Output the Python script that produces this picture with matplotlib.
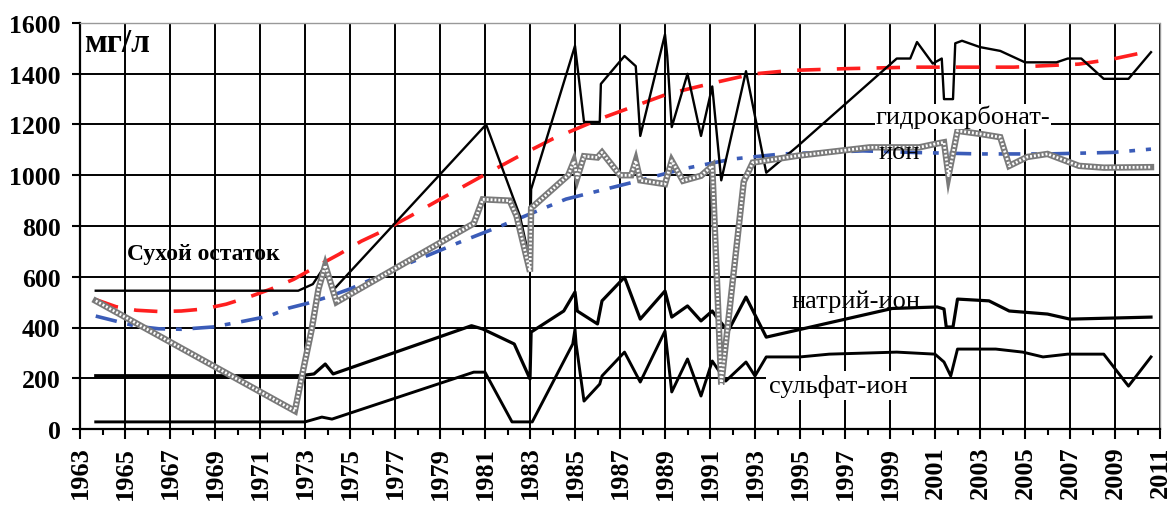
import matplotlib
matplotlib.use("Agg")
import matplotlib.pyplot as plt
from matplotlib.ticker import MultipleLocator

plt.rcParams['font.family'] = ['Liberation Serif', 'DejaVu Serif']

# ---- data ----
dry_x = [1963.7, 1972.7, 1973.35, 1973.9, 1974.3, 1981.05, 1982.55, 1983.0, 1983.05,
         1985.0, 1985.4, 1986.1, 1986.15, 1987.2, 1987.7, 1987.9, 1989.0, 1989.1, 1989.3,
         1990.0, 1990.6, 1991.1, 1991.5, 1992.6, 1993.5, 1994.9, 1999.3, 1999.9, 2000.2,
         2000.9, 2001.3, 2001.4, 2001.8, 2001.9, 2002.2, 2003.0, 2003.9, 2005.0, 2006.4,
         2006.9, 2007.5, 2008.5, 2009.6, 2010.6]
dry_y = [545, 545, 571, 645, 552, 1200, 840, 660, 945,
         1510, 1210, 1210, 1360, 1470, 1430, 1155, 1555, 1470, 1190,
         1400, 1155, 1350, 980, 1410, 1010, 1115, 1460, 1460, 1525,
         1440, 1460, 1300, 1300, 1520, 1530, 1505, 1490, 1445, 1445,
         1460, 1460, 1380, 1380, 1485]

hc_x = [1963.7, 1972.55, 1972.9, 1973.3, 1973.6, 1973.9, 1974.4, 1980.5, 1980.9, 1982.1,
        1982.4, 1983.0, 1983.05, 1984.7, 1984.95, 1985.1, 1985.4, 1986.0, 1986.2, 1987.0,
        1987.5, 1987.7, 1987.9, 1989.0, 1989.3, 1989.8, 1990.6, 1991.1, 1991.5, 1992.5,
        1992.9, 1994.9, 1998.1, 2000.3, 2001.1, 2001.4, 2001.6, 2002.0, 2003.0, 2003.9,
        2004.3, 2005.1, 2006.0, 2007.4, 2008.5, 2010.6]
hc_y = [505, 71, 224, 394, 552, 645, 500, 810, 905, 900,
        840, 620, 870, 1000, 1055, 990, 1075, 1070, 1090, 1000,
        1000, 1057, 980, 965, 1057, 978, 998, 1037, 175, 975,
        1050, 1077, 1110, 1110, 1125, 1130, 998, 1175, 1163, 1150,
        1037, 1072, 1084, 1037, 1030, 1032]

na_x = [1963.7, 1972.8, 1973.4, 1973.9, 1974.25, 1980.4, 1980.9, 1982.3, 1983.0, 1983.05,
        1984.5, 1985.0, 1985.1, 1986.0, 1986.2, 1987.2, 1987.9, 1989.0, 1989.3, 1990.0,
        1990.6, 1991.1, 1991.3, 1991.8, 1992.6, 1993.5, 1999.1, 2001.1, 2001.4, 2001.5,
        2001.8, 2002.0, 2003.4, 2004.3, 2006.0, 2007.0, 2010.6]
na_y = [210, 210, 217, 256, 217, 407, 394, 335, 197, 382,
        465, 540, 465, 414, 505, 598, 433, 544, 441, 485,
        426, 465, 440, 385, 520, 362, 475, 481, 473, 402,
        402, 512, 505, 465, 453, 433, 441]

su_x = [1963.7, 1973.0, 1973.75, 1974.2, 1980.5, 1981.0, 1982.2, 1983.1, 1984.9, 1985.0,
        1985.05, 1985.4, 1986.1, 1986.2, 1987.2, 1987.9, 1989.0, 1989.3, 1990.0, 1990.6,
        1991.1, 1991.7, 1992.6, 1993.0, 1993.5, 1995.0, 1996.3, 1999.3, 2001.0, 2001.4,
        2001.7, 2002.0, 2003.7, 2004.9, 2005.8, 2006.9, 2008.5, 2009.6, 2010.6]
su_y = [28, 28, 47, 39, 224, 224, 28, 28, 335, 394,
        335, 110, 177, 209, 303, 185, 386, 146, 276, 130,
        268, 189, 264, 209, 284, 284, 295, 303, 295, 264,
        209, 315, 315, 303, 284, 295, 295, 169, 284]

red_x = [1963.7, 1964.6, 1965.5, 1966.5, 1967.5, 1968.5, 1969.5, 1970.5, 1971.5, 1972.5,
         1973.5, 1974.5, 1975.5, 1976.5, 1977.7, 1979.0, 1980.9, 1982.5, 1984.0, 1986.1,
         1989.1, 1991.3, 1992.9, 1994.6, 1997.0, 2000.0, 2004.5, 2007.4, 2008.9, 2010.6]
red_y = [510, 482, 468, 463, 465, 473, 492, 520, 552, 590,
         640, 688, 740, 782, 840, 905, 998, 1075, 1143, 1222,
         1320, 1367, 1399, 1413, 1420, 1426, 1426, 1438, 1458, 1490]

blue_x = [1963.7, 1964.6, 1965.5, 1966.5, 1967.5, 1968.9, 1970.0, 1971.4, 1972.3, 1973.1,
          1974.0, 1975.0, 1977.2, 1979.9, 1981.7, 1984.6, 1987.6, 1989.8, 1992.0, 1994.2,
          1997.8, 2000.0, 2003.0, 2006.0, 2008.9, 2010.6]
blue_y = [445, 425, 405, 395, 393, 402, 420, 445, 477, 495,
          520, 552, 638, 737, 800, 906, 973, 1025, 1064, 1084,
          1096, 1090, 1084, 1084, 1090, 1103]

year_ticks = list(range(1963, 2012, 2))
y_ticks = list(range(0, 1601, 200))

# ---- figure ----
fig = plt.figure(figsize=(11.75, 5.06), dpi=100)
ax = fig.add_axes([80/1175, 1-430/506, 1080/1175, 406/506])
ax.set_xlim(1963, 2011)
ax.set_ylim(0, 1600)

ax.set_xticks(year_ticks)
ax.set_xticklabels([str(y) for y in year_ticks], rotation=90, fontsize=19, fontweight='bold')
ax.xaxis.set_minor_locator(MultipleLocator(1))
ax.set_yticks(y_ticks)
ax.set_yticklabels([str(v) for v in y_ticks], fontsize=18.5, fontweight='bold')
ax.tick_params(axis='x', which='major', length=7, width=1.5, pad=5, direction='out')
ax.tick_params(axis='x', which='minor', length=4, width=1.5, direction='out')
ax.tick_params(axis='y', which='major', length=6, width=1.5, pad=8, direction='out')
ax.grid(True, which='major', color='black', linewidth=1.4, zorder=0)
ax.set_axisbelow(True)

for s in ('left', 'bottom'):
    ax.spines[s].set_linewidth(1.6)
    ax.spines[s].set_color('black')
ax.spines['right'].set_color('#999999')
ax.spines['right'].set_linewidth(1.0)
ax.spines['top'].set_color('#999999')
ax.spines['top'].set_linewidth(1.0)
ax.spines['top'].set_linestyle((0, (1, 1)))

# trend lines
ax.plot(red_x, red_y, color='#ff1f1f', lw=2.6, linestyle=(0, (6.5, 4.5)), zorder=3)
ax.plot(blue_x, blue_y, color='#3b5cb8', lw=2.6, linestyle=(0, (6, 3, 1.6, 3)), zorder=3)

# series
ax.plot(dry_x, dry_y, color='black', lw=1.7, zorder=4)
ax.plot(na_x, na_y, color='black', lw=2.3, zorder=4)
ax.plot(su_x, su_y, color='black', lw=2.1, zorder=4)
ax.plot(hc_x, hc_y, color='#7a7a7a', lw=4.6, zorder=5, solid_joinstyle='miter')
ax.plot(hc_x, hc_y, color='white', lw=2.0, linestyle=(0, (0.7, 0.7)), zorder=6)

# labels
ax.text(1963.2, 1525, 'мг/л', fontsize=24, fontweight='bold', va='center', ha='left', zorder=8)
ax.text(1965.1, 690, 'Сухой остаток', fontsize=17, fontweight='bold', va='center', ha='left', zorder=8)
ax.text(1998.35, 1232, 'гидрокарбонат-', fontsize=19, va='center', ha='left', zorder=8,
        bbox=dict(facecolor='white', edgecolor='none', pad=0.5))
ax.text(1998.5, 1092, 'ион', fontsize=19, va='center', ha='left', zorder=8)
ax.text(1994.6, 505, 'натрий-ион', fontsize=19, va='center', ha='left', zorder=8)
ax.text(1993.6, 173, 'сульфат-ион', fontsize=19, va='center', ha='left', zorder=8,
        bbox=dict(facecolor='white', edgecolor='none', pad=2))

fig.savefig('out.png', dpi=100)
